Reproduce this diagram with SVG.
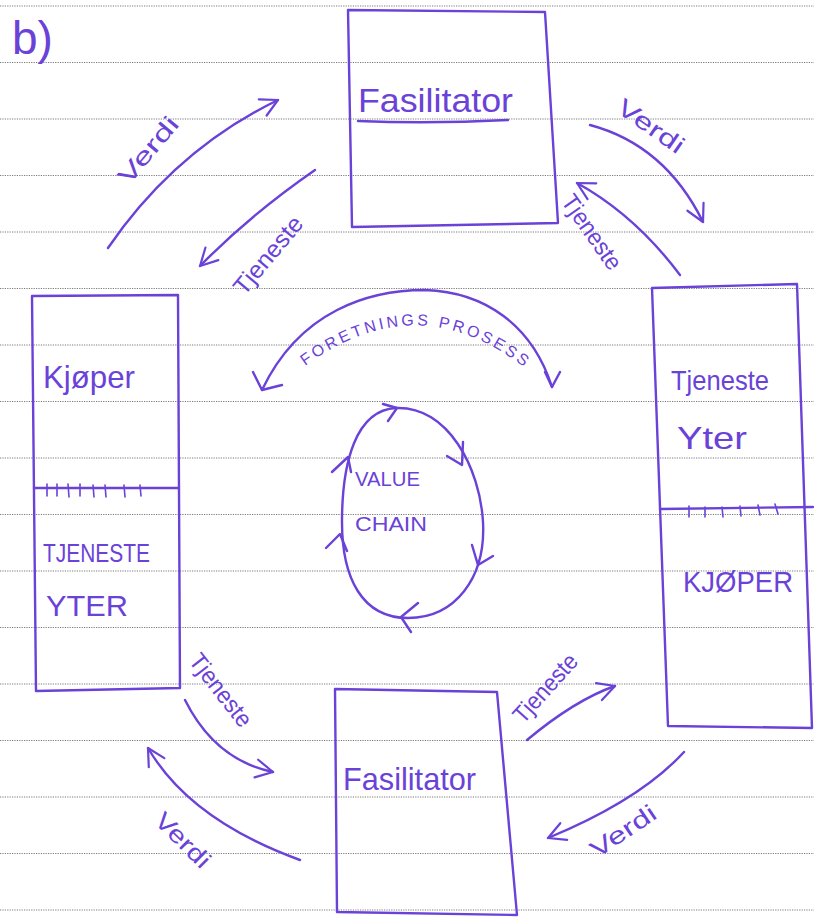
<svg xmlns="http://www.w3.org/2000/svg" width="814" height="919" viewBox="0 0 814 919">
  <defs>
    <style>
      .paper { stroke: #7a7a7a; stroke-width: 1; stroke-dasharray: 1.2 1.2; }
      .ink { fill: none; stroke: #6a42d8; stroke-width: 2.4; stroke-linecap: round; stroke-linejoin: round; }
      .thin { fill: none; stroke: #6a42d8; stroke-width: 1.6; stroke-linecap: round; }
      .txt { fill: #6a42d8; font-family: "Liberation Sans", "DejaVu Sans", sans-serif; }
      .lbl { fill: #6a42d8; font-family: "Liberation Sans", "DejaVu Sans", sans-serif; font-size: 24px; text-anchor: middle; }
    </style>
    <marker id="head" viewBox="0 0 22 22" refX="20" refY="11" markerWidth="22" markerHeight="22" markerUnits="userSpaceOnUse" orient="auto">
      <path d="M 3 2 L 20 11 L 3 20" fill="none" stroke="#6a42d8" stroke-width="2.2" stroke-linecap="round" stroke-linejoin="round"/>
    </marker>
  </defs>

  <rect width="814" height="919" fill="#ffffff"/>

  <g id="paper-lines">
    <line class="paper" x1="0" y1="6" x2="814" y2="6"/>
    <line class="paper" x1="0" y1="62.5" x2="814" y2="62.5"/>
    <line class="paper" x1="0" y1="119" x2="814" y2="119"/>
    <line class="paper" x1="0" y1="175.5" x2="814" y2="175.5"/>
    <line class="paper" x1="0" y1="232" x2="814" y2="232"/>
    <line class="paper" x1="0" y1="288.5" x2="814" y2="288.5"/>
    <line class="paper" x1="0" y1="345" x2="814" y2="345"/>
    <line class="paper" x1="0" y1="401.5" x2="814" y2="401.5"/>
    <line class="paper" x1="0" y1="458" x2="814" y2="458"/>
    <line class="paper" x1="0" y1="514.5" x2="814" y2="514.5"/>
    <line class="paper" x1="0" y1="571" x2="814" y2="571"/>
    <line class="paper" x1="0" y1="627.5" x2="814" y2="627.5"/>
    <line class="paper" x1="0" y1="684" x2="814" y2="684"/>
    <line class="paper" x1="0" y1="740.5" x2="814" y2="740.5"/>
    <line class="paper" x1="0" y1="797" x2="814" y2="797"/>
    <line class="paper" x1="0" y1="853.5" x2="814" y2="853.5"/>
    <line class="paper" x1="0" y1="910" x2="814" y2="910"/>
  </g>

  <text class="txt" x="12" y="54" font-size="46">b)</text>

  <g id="fasilitator-top">
    <path class="ink" d="M 348 10 L 545 12 L 558 223 L 352 227 Z"/>
    <text class="txt" x="358" y="112" font-size="34" textLength="155" lengthAdjust="spacingAndGlyphs">Fasilitator</text>
    <path class="ink" d="M 358 121 Q 430 124 508 120"/>
  </g>

  <g id="left-box">
    <path class="ink" d="M 32 296 L 178 295 L 180 688 L 36 691 Z"/>
    <path class="ink" d="M 34 488 L 178 488"/>
    <path class="thin" d="M 47 484 L 47 496 M 57 484 L 57 496 M 68 484 L 69 497 M 80 484 L 80 496 M 93 485 L 94 497 M 105 485 L 106 497 M 124 485 L 125 497 M 140 485 L 141 496"/>
    <text class="txt" x="43" y="388" font-size="32" textLength="92" lengthAdjust="spacingAndGlyphs">Kjøper</text>
    <text class="txt" x="43" y="562" font-size="26" textLength="107" lengthAdjust="spacingAndGlyphs">TJENESTE</text>
    <text class="txt" x="46" y="616" font-size="30" textLength="82" lengthAdjust="spacingAndGlyphs">YTER</text>
  </g>

  <g id="right-box">
    <path class="ink" d="M 652 288 L 797 284 L 812 728 L 668 726 Z"/>
    <path class="ink" d="M 660 509 L 813 507"/>
    <path class="thin" d="M 689 506 L 689 517 M 705 507 L 705 517 M 722 507 L 723 517 M 740 506 L 741 516 M 758 505 L 760 515 M 775 504 L 778 514"/>
    <text class="txt" x="671" y="390" font-size="28" textLength="98" lengthAdjust="spacingAndGlyphs">Tjeneste</text>
    <text class="txt" x="677" y="449" font-size="32" textLength="70" lengthAdjust="spacingAndGlyphs">Yter</text>
    <text class="txt" x="683" y="592" font-size="30" textLength="110" lengthAdjust="spacingAndGlyphs">KJØPER</text>
  </g>

  <g id="fasilitator-bottom">
    <path class="ink" d="M 335 689 L 497 692 L 517 915 L 337 912 Z"/>
    <text class="txt" x="343" y="790" font-size="32" textLength="133" lengthAdjust="spacingAndGlyphs">Fasilitator</text>
  </g>

  <g id="value-chain">
    <path class="ink" d="M 396 408 C 448 406 480 468 483 522 C 486 578 455 618 408 618 C 362 618 342 578 342 522 C 342 462 356 410 396 408 Z"/>
    <path class="ink" d="M 383 404 L 397 408 L 388 421 M 447 456 L 462 465 L 463 442 M 472 545 L 478 565 L 493 556 M 418 603 L 401 617 L 411 632 M 326 548 L 340 534 L 347 551 M 332 472 L 348 457 L 351 472"/>
    <text class="txt" x="355" y="486" font-size="20" textLength="65" lengthAdjust="spacingAndGlyphs">VALUE</text>
    <text class="txt" x="355" y="531" font-size="20" textLength="72" lengthAdjust="spacingAndGlyphs">CHAIN</text>
  </g>

  <g id="connectors">
    <path class="ink" d="M 262 390 C 300 310 370 290 425 290 C 485 292 532 325 552 387"/>
    <path class="ink" d="M 253 372 L 262 390 L 282 385 M 545 372 L 552 387 L 560 372"/>
    <path id="arcText" d="M 305 366 Q 420 282 530 372" fill="none"/>
    <text class="txt" font-size="16" letter-spacing="3"><textPath href="#arcText">FORETNINGS PROSESS</textPath></text>

    <path class="ink" d="M 108 248 Q 175 150 278 100" marker-end="url(#head)"/>
    <text class="lbl" font-size="26" x="148" y="150" dy="0.35em" transform="rotate(-50 148 150)" textLength="80" lengthAdjust="spacingAndGlyphs">Verdi</text>
    <path class="ink" d="M 315 170 Q 250 215 200 266" marker-end="url(#head)"/>
    <text class="lbl" x="268" y="255" dy="0.35em" transform="rotate(-50 268 255)" textLength="94" lengthAdjust="spacingAndGlyphs">Tjeneste</text>

    <path class="ink" d="M 590 125 Q 665 145 703 222" marker-end="url(#head)"/>
    <text class="lbl" font-size="26" x="651" y="126" dy="0.35em" transform="rotate(35 651 126)" textLength="76" lengthAdjust="spacingAndGlyphs">Verdi</text>
    <path class="ink" d="M 680 275 Q 635 215 577 183" marker-end="url(#head)"/>
    <text class="lbl" x="592" y="232" dy="0.35em" transform="rotate(55 592 232)" textLength="86" lengthAdjust="spacingAndGlyphs">Tjeneste</text>

    <path class="ink" d="M 185 700 Q 215 760 273 772" marker-end="url(#head)"/>
    <text class="lbl" x="221" y="690" dy="0.35em" transform="rotate(52 221 690)" textLength="86" lengthAdjust="spacingAndGlyphs">Tjeneste</text>
    <path class="ink" d="M 300 860 Q 190 820 148 748" marker-end="url(#head)"/>
    <text class="lbl" font-size="26" x="183" y="840" dy="0.35em" transform="rotate(45 183 840)" textLength="68" lengthAdjust="spacingAndGlyphs">Verdi</text>

    <path class="ink" d="M 527 740 Q 575 700 615 686" marker-end="url(#head)"/>
    <text class="lbl" x="545" y="688" dy="0.35em" transform="rotate(-48 545 688)" textLength="84" lengthAdjust="spacingAndGlyphs">Tjeneste</text>
    <path class="ink" d="M 684 752 Q 640 800 548 838" marker-end="url(#head)"/>
    <text class="lbl" font-size="26" x="623" y="831" dy="0.35em" transform="rotate(-34 623 831)" textLength="74" lengthAdjust="spacingAndGlyphs">Verdi</text>
  </g>
</svg>
